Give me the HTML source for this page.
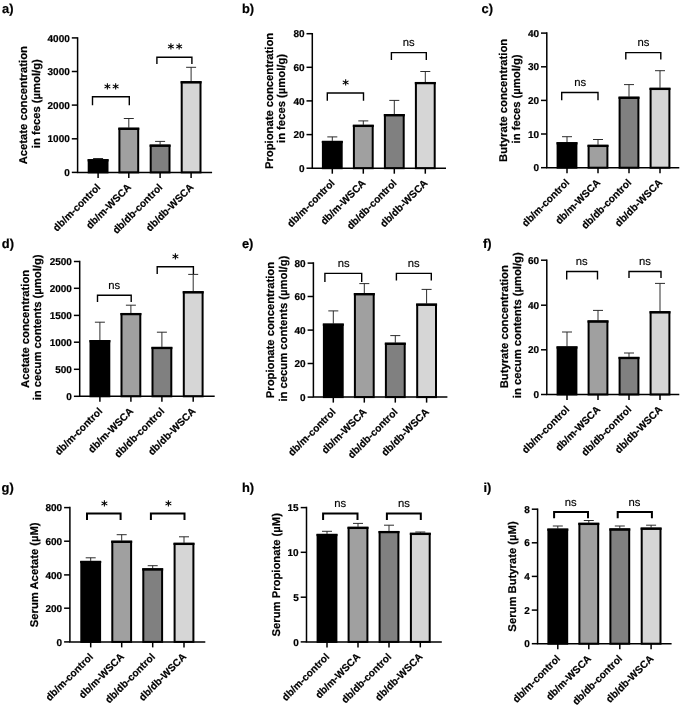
<!DOCTYPE html>
<html><head><meta charset="utf-8"><title>Figure</title><style>html,body{margin:0;padding:0;background:#fff}svg{display:block}</style></head><body>
<svg width="685" height="708" viewBox="0 0 685 708" text-rendering="geometricPrecision" font-family='"Liberation Sans", sans-serif'>
<rect width="685" height="708" fill="#fff"/>
<text x="2.0" y="13.0" font-size="12.9" font-weight="bold" stroke="#000" stroke-width="0.2">a)</text>
<path d="M98.1 159.2V158.5M93.1 158.5H103.1" stroke="#222" stroke-width="0.95" fill="none"/>
<rect x="88.70" y="160.20" width="18.80" height="12.20" fill="#000000" stroke="#000" stroke-width="2.0"/>
<path d="M87.60 160.30H108.60" stroke="#000" stroke-width="2.3" stroke-linejoin="round"/>
<path d="M128.8 127.7V118.5M123.80000000000001 118.5H133.8" stroke="#222" stroke-width="0.95" fill="none"/>
<rect x="119.40" y="128.70" width="18.80" height="43.70" fill="#a0a0a0" stroke="#000" stroke-width="2.0"/>
<path d="M118.30 128.80H139.30" stroke="#000" stroke-width="2.3" stroke-linejoin="round"/>
<path d="M160.1 144.6V141.4M155.1 141.4H165.1" stroke="#222" stroke-width="0.95" fill="none"/>
<rect x="150.70" y="145.60" width="18.80" height="26.80" fill="#808080" stroke="#000" stroke-width="2.0"/>
<path d="M149.60 145.70H170.60" stroke="#000" stroke-width="2.3" stroke-linejoin="round"/>
<path d="M191.1 81.2V67.3M186.1 67.3H196.1" stroke="#222" stroke-width="0.95" fill="none"/>
<rect x="181.70" y="82.20" width="18.80" height="90.20" fill="#d6d6d6" stroke="#000" stroke-width="2.0"/>
<path d="M180.60 82.30H201.60" stroke="#000" stroke-width="2.3" stroke-linejoin="round"/>
<path d="M77.6 37.15V172.4M76.85 172.4H212.1" stroke="#000" stroke-width="1.5" fill="none"/>
<path d="M71.8 37.9H77.6" stroke="#000" stroke-width="1.5"/>
<text x="69.8" y="41.5" font-size="10.0" font-weight="bold" stroke="#000" stroke-width="0.2" text-anchor="end">4000</text>
<path d="M71.8 71.5H77.6" stroke="#000" stroke-width="1.5"/>
<text x="69.8" y="75.1" font-size="10.0" font-weight="bold" stroke="#000" stroke-width="0.2" text-anchor="end">3000</text>
<path d="M71.8 105.1H77.6" stroke="#000" stroke-width="1.5"/>
<text x="69.8" y="108.7" font-size="10.0" font-weight="bold" stroke="#000" stroke-width="0.2" text-anchor="end">2000</text>
<path d="M71.8 138.8H77.6" stroke="#000" stroke-width="1.5"/>
<text x="69.8" y="142.4" font-size="10.0" font-weight="bold" stroke="#000" stroke-width="0.2" text-anchor="end">1000</text>
<path d="M71.8 172.4H77.6" stroke="#000" stroke-width="1.5"/>
<text x="69.8" y="176.0" font-size="10.0" font-weight="bold" stroke="#000" stroke-width="0.2" text-anchor="end">0</text>
<path d="M98.1 172.4V177.9" stroke="#000" stroke-width="1.5"/>
<text transform="translate(101.1 187.9) rotate(-45)" font-size="10.2" font-weight="bold" stroke="#000" stroke-width="0.2" text-anchor="end">db/m-control</text>
<path d="M128.8 172.4V177.9" stroke="#000" stroke-width="1.5"/>
<text transform="translate(131.8 187.9) rotate(-45)" font-size="10.2" font-weight="bold" stroke="#000" stroke-width="0.2" text-anchor="end">db/m-WSCA</text>
<path d="M160.1 172.4V177.9" stroke="#000" stroke-width="1.5"/>
<text transform="translate(163.1 187.9) rotate(-45)" font-size="10.2" font-weight="bold" stroke="#000" stroke-width="0.2" text-anchor="end">db/db-control</text>
<path d="M191.1 172.4V177.9" stroke="#000" stroke-width="1.5"/>
<text transform="translate(194.1 187.9) rotate(-45)" font-size="10.2" font-weight="bold" stroke="#000" stroke-width="0.2" text-anchor="end">db/db-WSCA</text>
<path d="M92.5 105.3V96.7H129.3V105.3" stroke="#000" stroke-width="1.4" fill="none"/>
<text x="112.25" y="92.7" font-size="13" font-weight="bold" font-family='"DejaVu Sans", sans-serif' letter-spacing="1.5" text-anchor="middle">**</text>
<path d="M156.9 64.1V57.3H191.9V64.1" stroke="#000" stroke-width="1.4" fill="none"/>
<text x="175.75" y="52.8" font-size="13" font-weight="bold" font-family='"DejaVu Sans", sans-serif' letter-spacing="1.5" text-anchor="middle">**</text>
<text transform="translate(27 105.2) rotate(-90)" font-size="11.25" font-weight="bold" stroke="#000" stroke-width="0.2" text-anchor="middle">Acetate concentration</text>
<text transform="translate(39.9 103.7) rotate(-90)" font-size="11.25" font-weight="bold" stroke="#000" stroke-width="0.2" text-anchor="middle">in feces (µmol/g)</text>
<text x="242.0" y="12.6" font-size="12.9" font-weight="bold" stroke="#000" stroke-width="0.2">b)</text>
<path d="M332.3 140.9V136.9M327.3 136.9H337.3" stroke="#222" stroke-width="0.95" fill="none"/>
<rect x="322.90" y="141.90" width="18.80" height="26.30" fill="#000000" stroke="#000" stroke-width="2.0"/>
<path d="M321.80 142.00H342.80" stroke="#000" stroke-width="2.3" stroke-linejoin="round"/>
<path d="M363.3 124.8V120.9M358.3 120.9H368.3" stroke="#222" stroke-width="0.95" fill="none"/>
<rect x="353.90" y="125.80" width="18.80" height="42.40" fill="#a0a0a0" stroke="#000" stroke-width="2.0"/>
<path d="M352.80 125.90H373.80" stroke="#000" stroke-width="2.3" stroke-linejoin="round"/>
<path d="M394.3 114.1V100.4M389.3 100.4H399.3" stroke="#222" stroke-width="0.95" fill="none"/>
<rect x="384.90" y="115.10" width="18.80" height="53.10" fill="#808080" stroke="#000" stroke-width="2.0"/>
<path d="M383.80 115.20H404.80" stroke="#000" stroke-width="2.3" stroke-linejoin="round"/>
<path d="M425.3 82.0V71.5M420.3 71.5H430.3" stroke="#222" stroke-width="0.95" fill="none"/>
<rect x="415.90" y="83.00" width="18.80" height="85.20" fill="#d6d6d6" stroke="#000" stroke-width="2.0"/>
<path d="M414.80 83.10H435.80" stroke="#000" stroke-width="2.3" stroke-linejoin="round"/>
<path d="M312.3 32.95V168.2M311.55 168.2H446" stroke="#000" stroke-width="1.5" fill="none"/>
<path d="M306.5 33.7H312.3" stroke="#000" stroke-width="1.5"/>
<text x="304.5" y="37.3" font-size="10.0" font-weight="bold" stroke="#000" stroke-width="0.2" text-anchor="end">80</text>
<path d="M306.5 67.3H312.3" stroke="#000" stroke-width="1.5"/>
<text x="304.5" y="70.9" font-size="10.0" font-weight="bold" stroke="#000" stroke-width="0.2" text-anchor="end">60</text>
<path d="M306.5 100.9H312.3" stroke="#000" stroke-width="1.5"/>
<text x="304.5" y="104.5" font-size="10.0" font-weight="bold" stroke="#000" stroke-width="0.2" text-anchor="end">40</text>
<path d="M306.5 134.6H312.3" stroke="#000" stroke-width="1.5"/>
<text x="304.5" y="138.2" font-size="10.0" font-weight="bold" stroke="#000" stroke-width="0.2" text-anchor="end">20</text>
<path d="M306.5 168.2H312.3" stroke="#000" stroke-width="1.5"/>
<text x="304.5" y="171.8" font-size="10.0" font-weight="bold" stroke="#000" stroke-width="0.2" text-anchor="end">0</text>
<path d="M332.3 168.2V173.7" stroke="#000" stroke-width="1.5"/>
<text transform="translate(335.3 183.7) rotate(-45)" font-size="10.2" font-weight="bold" stroke="#000" stroke-width="0.2" text-anchor="end">db/m-control</text>
<path d="M363.3 168.2V173.7" stroke="#000" stroke-width="1.5"/>
<text transform="translate(366.3 183.7) rotate(-45)" font-size="10.2" font-weight="bold" stroke="#000" stroke-width="0.2" text-anchor="end">db/m-WSCA</text>
<path d="M394.3 168.2V173.7" stroke="#000" stroke-width="1.5"/>
<text transform="translate(397.3 183.7) rotate(-45)" font-size="10.2" font-weight="bold" stroke="#000" stroke-width="0.2" text-anchor="end">db/db-control</text>
<path d="M425.3 168.2V173.7" stroke="#000" stroke-width="1.5"/>
<text transform="translate(428.3 183.7) rotate(-45)" font-size="10.2" font-weight="bold" stroke="#000" stroke-width="0.2" text-anchor="end">db/db-WSCA</text>
<path d="M327.3 100.8V93.0H363.5V100.8" stroke="#000" stroke-width="1.4" fill="none"/>
<text x="346.45" y="89.0" font-size="13" font-weight="bold" font-family='"DejaVu Sans", sans-serif' letter-spacing="1.5" text-anchor="middle">*</text>
<path d="M391.4 60.1V52.6H426.3V60.1" stroke="#000" stroke-width="1.4" fill="none"/>
<text x="408.7" y="46.4" font-size="11.3" stroke="#000" stroke-width="0.15" text-anchor="middle">ns</text>
<text transform="translate(273 100.9) rotate(-90)" font-size="11.25" font-weight="bold" stroke="#000" stroke-width="0.2" text-anchor="middle">Propionate concentration</text>
<text transform="translate(285.4 98.5) rotate(-90)" font-size="11.25" font-weight="bold" stroke="#000" stroke-width="0.2" text-anchor="middle">in feces (µmol/g)</text>
<text x="481.6" y="12.5" font-size="12.9" font-weight="bold" stroke="#000" stroke-width="0.2">c)</text>
<path d="M567 142.2V136.7M562 136.7H572" stroke="#222" stroke-width="0.95" fill="none"/>
<rect x="557.60" y="143.20" width="18.80" height="24.50" fill="#000000" stroke="#000" stroke-width="2.0"/>
<path d="M556.50 143.30H577.50" stroke="#000" stroke-width="2.3" stroke-linejoin="round"/>
<path d="M598 144.8V139.5M593 139.5H603" stroke="#222" stroke-width="0.95" fill="none"/>
<rect x="588.60" y="145.80" width="18.80" height="21.90" fill="#a0a0a0" stroke="#000" stroke-width="2.0"/>
<path d="M587.50 145.90H608.50" stroke="#000" stroke-width="2.3" stroke-linejoin="round"/>
<path d="M629 96.7V84.6M624 84.6H634" stroke="#222" stroke-width="0.95" fill="none"/>
<rect x="619.60" y="97.70" width="18.80" height="70.00" fill="#808080" stroke="#000" stroke-width="2.0"/>
<path d="M618.50 97.80H639.50" stroke="#000" stroke-width="2.3" stroke-linejoin="round"/>
<path d="M660 87.8V70.7M655 70.7H665" stroke="#222" stroke-width="0.95" fill="none"/>
<rect x="650.60" y="88.80" width="18.80" height="78.90" fill="#d6d6d6" stroke="#000" stroke-width="2.0"/>
<path d="M649.50 88.90H670.50" stroke="#000" stroke-width="2.3" stroke-linejoin="round"/>
<path d="M546.8 32.35V167.7M546.05 167.7H679.3" stroke="#000" stroke-width="1.5" fill="none"/>
<path d="M541.0 33.1H546.8" stroke="#000" stroke-width="1.5"/>
<text x="539.0" y="36.7" font-size="10.0" font-weight="bold" stroke="#000" stroke-width="0.2" text-anchor="end">40</text>
<path d="M541.0 66.8H546.8" stroke="#000" stroke-width="1.5"/>
<text x="539.0" y="70.4" font-size="10.0" font-weight="bold" stroke="#000" stroke-width="0.2" text-anchor="end">30</text>
<path d="M541.0 100.4H546.8" stroke="#000" stroke-width="1.5"/>
<text x="539.0" y="104.0" font-size="10.0" font-weight="bold" stroke="#000" stroke-width="0.2" text-anchor="end">20</text>
<path d="M541.0 134.0H546.8" stroke="#000" stroke-width="1.5"/>
<text x="539.0" y="137.6" font-size="10.0" font-weight="bold" stroke="#000" stroke-width="0.2" text-anchor="end">10</text>
<path d="M541.0 167.7H546.8" stroke="#000" stroke-width="1.5"/>
<text x="539.0" y="171.3" font-size="10.0" font-weight="bold" stroke="#000" stroke-width="0.2" text-anchor="end">0</text>
<path d="M567 167.7V173.2" stroke="#000" stroke-width="1.5"/>
<text transform="translate(570.0 183.2) rotate(-45)" font-size="10.2" font-weight="bold" stroke="#000" stroke-width="0.2" text-anchor="end">db/m-control</text>
<path d="M598 167.7V173.2" stroke="#000" stroke-width="1.5"/>
<text transform="translate(601.0 183.2) rotate(-45)" font-size="10.2" font-weight="bold" stroke="#000" stroke-width="0.2" text-anchor="end">db/m-WSCA</text>
<path d="M629 167.7V173.2" stroke="#000" stroke-width="1.5"/>
<text transform="translate(632.0 183.2) rotate(-45)" font-size="10.2" font-weight="bold" stroke="#000" stroke-width="0.2" text-anchor="end">db/db-control</text>
<path d="M660 167.7V173.2" stroke="#000" stroke-width="1.5"/>
<text transform="translate(663.0 183.2) rotate(-45)" font-size="10.2" font-weight="bold" stroke="#000" stroke-width="0.2" text-anchor="end">db/db-WSCA</text>
<path d="M561.7 100.3V92.5H598V100.3" stroke="#000" stroke-width="1.4" fill="none"/>
<text x="580.1" y="86.3" font-size="11.3" stroke="#000" stroke-width="0.15" text-anchor="middle">ns</text>
<path d="M625.8 59.6V52.6H660.8V59.6" stroke="#000" stroke-width="1.4" fill="none"/>
<text x="643.5" y="46.4" font-size="11.3" stroke="#000" stroke-width="0.15" text-anchor="middle">ns</text>
<text transform="translate(507 100.4) rotate(-90)" font-size="11.25" font-weight="bold" stroke="#000" stroke-width="0.2" text-anchor="middle">Butyrate concentration</text>
<text transform="translate(520.2 98.9) rotate(-90)" font-size="11.25" font-weight="bold" stroke="#000" stroke-width="0.2" text-anchor="middle">in feces (µmol/g)</text>
<text x="1.7999999999999998" y="248.0" font-size="12.9" font-weight="bold" stroke="#000" stroke-width="0.2">d)</text>
<path d="M99.9 340.1V322.2M94.9 322.2H104.9" stroke="#222" stroke-width="0.95" fill="none"/>
<rect x="90.50" y="341.10" width="18.80" height="55.20" fill="#000000" stroke="#000" stroke-width="2.0"/>
<path d="M89.40 341.20H110.40" stroke="#000" stroke-width="2.3" stroke-linejoin="round"/>
<path d="M130.9 313.0V305.2M125.9 305.2H135.9" stroke="#222" stroke-width="0.95" fill="none"/>
<rect x="121.50" y="314.00" width="18.80" height="82.30" fill="#a0a0a0" stroke="#000" stroke-width="2.0"/>
<path d="M120.40 314.10H141.40" stroke="#000" stroke-width="2.3" stroke-linejoin="round"/>
<path d="M161.9 346.9V332.2M156.9 332.2H166.9" stroke="#222" stroke-width="0.95" fill="none"/>
<rect x="152.50" y="347.90" width="18.80" height="48.40" fill="#808080" stroke="#000" stroke-width="2.0"/>
<path d="M151.40 348.00H172.40" stroke="#000" stroke-width="2.3" stroke-linejoin="round"/>
<path d="M193.2 291.2V274.4M188.2 274.4H198.2" stroke="#222" stroke-width="0.95" fill="none"/>
<rect x="183.80" y="292.20" width="18.80" height="104.10" fill="#d6d6d6" stroke="#000" stroke-width="2.0"/>
<path d="M182.70 292.30H203.70" stroke="#000" stroke-width="2.3" stroke-linejoin="round"/>
<path d="M79.7 260.75V396.3M78.95 396.3H214.7" stroke="#000" stroke-width="1.5" fill="none"/>
<path d="M73.9 261.5H79.7" stroke="#000" stroke-width="1.5"/>
<text x="71.9" y="265.1" font-size="10.0" font-weight="bold" stroke="#000" stroke-width="0.2" text-anchor="end">2500</text>
<path d="M73.9 288.3H79.7" stroke="#000" stroke-width="1.5"/>
<text x="71.9" y="291.9" font-size="10.0" font-weight="bold" stroke="#000" stroke-width="0.2" text-anchor="end">2000</text>
<path d="M73.9 315.4H79.7" stroke="#000" stroke-width="1.5"/>
<text x="71.9" y="319.0" font-size="10.0" font-weight="bold" stroke="#000" stroke-width="0.2" text-anchor="end">1500</text>
<path d="M73.9 342.2H79.7" stroke="#000" stroke-width="1.5"/>
<text x="71.9" y="345.8" font-size="10.0" font-weight="bold" stroke="#000" stroke-width="0.2" text-anchor="end">1000</text>
<path d="M73.9 369.3H79.7" stroke="#000" stroke-width="1.5"/>
<text x="71.9" y="372.9" font-size="10.0" font-weight="bold" stroke="#000" stroke-width="0.2" text-anchor="end">500</text>
<path d="M73.9 396.3H79.7" stroke="#000" stroke-width="1.5"/>
<text x="71.9" y="399.9" font-size="10.0" font-weight="bold" stroke="#000" stroke-width="0.2" text-anchor="end">0</text>
<path d="M99.9 396.3V401.8" stroke="#000" stroke-width="1.5"/>
<text transform="translate(102.9 411.8) rotate(-45)" font-size="10.2" font-weight="bold" stroke="#000" stroke-width="0.2" text-anchor="end">db/m-control</text>
<path d="M130.9 396.3V401.8" stroke="#000" stroke-width="1.5"/>
<text transform="translate(133.9 411.8) rotate(-45)" font-size="10.2" font-weight="bold" stroke="#000" stroke-width="0.2" text-anchor="end">db/m-WSCA</text>
<path d="M161.9 396.3V401.8" stroke="#000" stroke-width="1.5"/>
<text transform="translate(164.9 411.8) rotate(-45)" font-size="10.2" font-weight="bold" stroke="#000" stroke-width="0.2" text-anchor="end">db/db-control</text>
<path d="M193.2 396.3V401.8" stroke="#000" stroke-width="1.5"/>
<text transform="translate(196.2 411.8) rotate(-45)" font-size="10.2" font-weight="bold" stroke="#000" stroke-width="0.2" text-anchor="end">db/db-WSCA</text>
<path d="M97.5 301.9V295.2H131.2V301.9" stroke="#000" stroke-width="1.4" fill="none"/>
<text x="114.1" y="289.0" font-size="11.3" stroke="#000" stroke-width="0.15" text-anchor="middle">ns</text>
<path d="M157.2 274.1V266.8H193.4V274.1" stroke="#000" stroke-width="1.4" fill="none"/>
<text x="176.05" y="262.8" font-size="13" font-weight="bold" font-family='"DejaVu Sans", sans-serif' letter-spacing="1.5" text-anchor="middle">*</text>
<text transform="translate(28.9 328.9) rotate(-90)" font-size="11.25" font-weight="bold" stroke="#000" stroke-width="0.2" text-anchor="middle">Acetate concentration</text>
<text transform="translate(41.3 327.4) rotate(-90)" font-size="11.25" font-weight="bold" stroke="#000" stroke-width="0.2" text-anchor="middle">in cecum contents (µmol/g)</text>
<text x="241.9" y="247.7" font-size="12.9" font-weight="bold" stroke="#000" stroke-width="0.2">e)</text>
<path d="M333.3 323.6V310.9M328.3 310.9H338.3" stroke="#222" stroke-width="0.95" fill="none"/>
<rect x="323.90" y="324.60" width="18.80" height="72.50" fill="#000000" stroke="#000" stroke-width="2.0"/>
<path d="M322.80 324.70H343.80" stroke="#000" stroke-width="2.3" stroke-linejoin="round"/>
<path d="M364.3 293.1V283.6M359.3 283.6H369.3" stroke="#222" stroke-width="0.95" fill="none"/>
<rect x="354.90" y="294.10" width="18.80" height="103.00" fill="#a0a0a0" stroke="#000" stroke-width="2.0"/>
<path d="M353.80 294.20H374.80" stroke="#000" stroke-width="2.3" stroke-linejoin="round"/>
<path d="M395.3 342.7V335.6M390.3 335.6H400.3" stroke="#222" stroke-width="0.95" fill="none"/>
<rect x="385.90" y="343.70" width="18.80" height="53.40" fill="#808080" stroke="#000" stroke-width="2.0"/>
<path d="M384.80 343.80H405.80" stroke="#000" stroke-width="2.3" stroke-linejoin="round"/>
<path d="M426.6 303.6V289.4M421.6 289.4H431.6" stroke="#222" stroke-width="0.95" fill="none"/>
<rect x="417.20" y="304.60" width="18.80" height="92.50" fill="#d6d6d6" stroke="#000" stroke-width="2.0"/>
<path d="M416.10 304.70H437.10" stroke="#000" stroke-width="2.3" stroke-linejoin="round"/>
<path d="M313.4 262.35V397.1M312.65 397.1H447.4" stroke="#000" stroke-width="1.5" fill="none"/>
<path d="M307.59999999999997 263.1H313.4" stroke="#000" stroke-width="1.5"/>
<text x="305.6" y="266.7" font-size="10.0" font-weight="bold" stroke="#000" stroke-width="0.2" text-anchor="end">80</text>
<path d="M307.59999999999997 296.5H313.4" stroke="#000" stroke-width="1.5"/>
<text x="305.6" y="300.1" font-size="10.0" font-weight="bold" stroke="#000" stroke-width="0.2" text-anchor="end">60</text>
<path d="M307.59999999999997 330.1H313.4" stroke="#000" stroke-width="1.5"/>
<text x="305.6" y="333.7" font-size="10.0" font-weight="bold" stroke="#000" stroke-width="0.2" text-anchor="end">40</text>
<path d="M307.59999999999997 363.5H313.4" stroke="#000" stroke-width="1.5"/>
<text x="305.6" y="367.1" font-size="10.0" font-weight="bold" stroke="#000" stroke-width="0.2" text-anchor="end">20</text>
<path d="M307.59999999999997 397.1H313.4" stroke="#000" stroke-width="1.5"/>
<text x="305.6" y="400.7" font-size="10.0" font-weight="bold" stroke="#000" stroke-width="0.2" text-anchor="end">0</text>
<path d="M333.3 397.1V402.6" stroke="#000" stroke-width="1.5"/>
<text transform="translate(336.3 412.6) rotate(-45)" font-size="10.2" font-weight="bold" stroke="#000" stroke-width="0.2" text-anchor="end">db/m-control</text>
<path d="M364.3 397.1V402.6" stroke="#000" stroke-width="1.5"/>
<text transform="translate(367.3 412.6) rotate(-45)" font-size="10.2" font-weight="bold" stroke="#000" stroke-width="0.2" text-anchor="end">db/m-WSCA</text>
<path d="M395.3 397.1V402.6" stroke="#000" stroke-width="1.5"/>
<text transform="translate(398.3 412.6) rotate(-45)" font-size="10.2" font-weight="bold" stroke="#000" stroke-width="0.2" text-anchor="end">db/db-control</text>
<path d="M426.6 397.1V402.6" stroke="#000" stroke-width="1.5"/>
<text transform="translate(429.6 412.6) rotate(-45)" font-size="10.2" font-weight="bold" stroke="#000" stroke-width="0.2" text-anchor="end">db/db-WSCA</text>
<path d="M324.9 282.0V273.4H361.7V282.0" stroke="#000" stroke-width="1.4" fill="none"/>
<text x="343.6" y="267.2" font-size="11.3" stroke="#000" stroke-width="0.15" text-anchor="middle">ns</text>
<path d="M396.4 280.6V273.4H431.3V280.6" stroke="#000" stroke-width="1.4" fill="none"/>
<text x="413.7" y="267.2" font-size="11.3" stroke="#000" stroke-width="0.15" text-anchor="middle">ns</text>
<text transform="translate(274.1 330.1) rotate(-90)" font-size="11.25" font-weight="bold" stroke="#000" stroke-width="0.2" text-anchor="middle">Propionate concentration</text>
<text transform="translate(286.7 328.6) rotate(-90)" font-size="11.25" font-weight="bold" stroke="#000" stroke-width="0.2" text-anchor="middle">in cecum contents (µmol/g)</text>
<text x="482.9" y="247.6" font-size="12.9" font-weight="bold" stroke="#000" stroke-width="0.2">f)</text>
<path d="M567 346.4V332.0M562 332.0H572" stroke="#222" stroke-width="0.95" fill="none"/>
<rect x="557.60" y="347.40" width="18.80" height="47.10" fill="#000000" stroke="#000" stroke-width="2.0"/>
<path d="M556.50 347.50H577.50" stroke="#000" stroke-width="2.3" stroke-linejoin="round"/>
<path d="M598 320.4V310.4M593 310.4H603" stroke="#222" stroke-width="0.95" fill="none"/>
<rect x="588.60" y="321.40" width="18.80" height="73.10" fill="#a0a0a0" stroke="#000" stroke-width="2.0"/>
<path d="M587.50 321.50H608.50" stroke="#000" stroke-width="2.3" stroke-linejoin="round"/>
<path d="M629 356.9V353.0M624 353.0H634" stroke="#222" stroke-width="0.95" fill="none"/>
<rect x="619.60" y="357.90" width="18.80" height="36.60" fill="#808080" stroke="#000" stroke-width="2.0"/>
<path d="M618.50 358.00H639.50" stroke="#000" stroke-width="2.3" stroke-linejoin="round"/>
<path d="M660 311.2V283.4M655 283.4H665" stroke="#222" stroke-width="0.95" fill="none"/>
<rect x="650.60" y="312.20" width="18.80" height="82.30" fill="#d6d6d6" stroke="#000" stroke-width="2.0"/>
<path d="M649.50 312.30H670.50" stroke="#000" stroke-width="2.3" stroke-linejoin="round"/>
<path d="M546.8 259.45V394.5M546.05 394.5H679.3" stroke="#000" stroke-width="1.5" fill="none"/>
<path d="M541.0 260.2H546.8" stroke="#000" stroke-width="1.5"/>
<text x="539.0" y="263.8" font-size="10.0" font-weight="bold" stroke="#000" stroke-width="0.2" text-anchor="end">60</text>
<path d="M541.0 305.2H546.8" stroke="#000" stroke-width="1.5"/>
<text x="539.0" y="308.8" font-size="10.0" font-weight="bold" stroke="#000" stroke-width="0.2" text-anchor="end">40</text>
<path d="M541.0 349.8H546.8" stroke="#000" stroke-width="1.5"/>
<text x="539.0" y="353.4" font-size="10.0" font-weight="bold" stroke="#000" stroke-width="0.2" text-anchor="end">20</text>
<path d="M541.0 394.5H546.8" stroke="#000" stroke-width="1.5"/>
<text x="539.0" y="398.1" font-size="10.0" font-weight="bold" stroke="#000" stroke-width="0.2" text-anchor="end">0</text>
<path d="M567 394.5V400.0" stroke="#000" stroke-width="1.5"/>
<text transform="translate(570.0 410.0) rotate(-45)" font-size="10.2" font-weight="bold" stroke="#000" stroke-width="0.2" text-anchor="end">db/m-control</text>
<path d="M598 394.5V400.0" stroke="#000" stroke-width="1.5"/>
<text transform="translate(601.0 410.0) rotate(-45)" font-size="10.2" font-weight="bold" stroke="#000" stroke-width="0.2" text-anchor="end">db/m-WSCA</text>
<path d="M629 394.5V400.0" stroke="#000" stroke-width="1.5"/>
<text transform="translate(632.0 410.0) rotate(-45)" font-size="10.2" font-weight="bold" stroke="#000" stroke-width="0.2" text-anchor="end">db/db-control</text>
<path d="M660 394.5V400.0" stroke="#000" stroke-width="1.5"/>
<text transform="translate(663.0 410.0) rotate(-45)" font-size="10.2" font-weight="bold" stroke="#000" stroke-width="0.2" text-anchor="end">db/db-WSCA</text>
<path d="M566.7 279.6V271.5H597.5V279.6" stroke="#000" stroke-width="1.4" fill="none"/>
<text x="581.7" y="265.3" font-size="11.3" stroke="#000" stroke-width="0.15" text-anchor="middle">ns</text>
<path d="M629 278.0V271.5H661V278.0" stroke="#000" stroke-width="1.4" fill="none"/>
<text x="645" y="265.3" font-size="11.3" stroke="#000" stroke-width="0.15" text-anchor="middle">ns</text>
<text transform="translate(507.5 326.7) rotate(-90)" font-size="11.25" font-weight="bold" stroke="#000" stroke-width="0.2" text-anchor="middle">Butyrate concentration</text>
<text transform="translate(520.7 325.2) rotate(-90)" font-size="11.25" font-weight="bold" stroke="#000" stroke-width="0.2" text-anchor="middle">in cecum contents (µmol/g)</text>
<text x="1.6" y="491.9" font-size="12.9" font-weight="bold" stroke="#000" stroke-width="0.2">g)</text>
<path d="M90.7 560.9V557.8M85.7 557.8H95.7" stroke="#222" stroke-width="0.95" fill="none"/>
<rect x="81.30" y="561.90" width="18.80" height="80.00" fill="#000000" stroke="#000" stroke-width="2.0"/>
<path d="M80.20 562.00H101.20" stroke="#000" stroke-width="2.3" stroke-linejoin="round"/>
<path d="M121.7 540.7V534.7M116.7 534.7H126.7" stroke="#222" stroke-width="0.95" fill="none"/>
<rect x="112.30" y="541.70" width="18.80" height="100.20" fill="#a0a0a0" stroke="#000" stroke-width="2.0"/>
<path d="M111.20 541.80H132.20" stroke="#000" stroke-width="2.3" stroke-linejoin="round"/>
<path d="M152.7 568.3V565.7M147.7 565.7H157.7" stroke="#222" stroke-width="0.95" fill="none"/>
<rect x="143.30" y="569.30" width="18.80" height="72.60" fill="#808080" stroke="#000" stroke-width="2.0"/>
<path d="M142.20 569.40H163.20" stroke="#000" stroke-width="2.3" stroke-linejoin="round"/>
<path d="M184.0 542.8V536.8M179.0 536.8H189.0" stroke="#222" stroke-width="0.95" fill="none"/>
<rect x="174.60" y="543.80" width="18.80" height="98.10" fill="#d6d6d6" stroke="#000" stroke-width="2.0"/>
<path d="M173.50 543.90H194.50" stroke="#000" stroke-width="2.3" stroke-linejoin="round"/>
<path d="M69.9 506.85V641.9M69.15 641.9H205.3" stroke="#000" stroke-width="1.5" fill="none"/>
<path d="M64.10000000000001 507.6H69.9" stroke="#000" stroke-width="1.5"/>
<text x="62.1" y="511.2" font-size="10.0" font-weight="bold" stroke="#000" stroke-width="0.2" text-anchor="end">800</text>
<path d="M64.10000000000001 541.2H69.9" stroke="#000" stroke-width="1.5"/>
<text x="62.1" y="544.8" font-size="10.0" font-weight="bold" stroke="#000" stroke-width="0.2" text-anchor="end">600</text>
<path d="M64.10000000000001 574.9H69.9" stroke="#000" stroke-width="1.5"/>
<text x="62.1" y="578.5" font-size="10.0" font-weight="bold" stroke="#000" stroke-width="0.2" text-anchor="end">400</text>
<path d="M64.10000000000001 608.2H69.9" stroke="#000" stroke-width="1.5"/>
<text x="62.1" y="611.8" font-size="10.0" font-weight="bold" stroke="#000" stroke-width="0.2" text-anchor="end">200</text>
<path d="M64.10000000000001 641.9H69.9" stroke="#000" stroke-width="1.5"/>
<text x="62.1" y="645.5" font-size="10.0" font-weight="bold" stroke="#000" stroke-width="0.2" text-anchor="end">0</text>
<path d="M90.7 641.9V647.4" stroke="#000" stroke-width="1.5"/>
<text transform="translate(93.7 657.4) rotate(-45)" font-size="10.2" font-weight="bold" stroke="#000" stroke-width="0.2" text-anchor="end">db/m-control</text>
<path d="M121.7 641.9V647.4" stroke="#000" stroke-width="1.5"/>
<text transform="translate(124.7 657.4) rotate(-45)" font-size="10.2" font-weight="bold" stroke="#000" stroke-width="0.2" text-anchor="end">db/m-WSCA</text>
<path d="M152.7 641.9V647.4" stroke="#000" stroke-width="1.5"/>
<text transform="translate(155.7 657.4) rotate(-45)" font-size="10.2" font-weight="bold" stroke="#000" stroke-width="0.2" text-anchor="end">db/db-control</text>
<path d="M184.0 641.9V647.4" stroke="#000" stroke-width="1.5"/>
<text transform="translate(187.0 657.4) rotate(-45)" font-size="10.2" font-weight="bold" stroke="#000" stroke-width="0.2" text-anchor="end">db/db-WSCA</text>
<path d="M87 520.1V513.6H120.6V520.1" stroke="#000" stroke-width="2.0" fill="none"/>
<text x="105.15" y="509.6" font-size="13" font-weight="bold" font-family='"DejaVu Sans", sans-serif' letter-spacing="1.5" text-anchor="middle">*</text>
<path d="M150.9 520.1V513.6H184.5V520.1" stroke="#000" stroke-width="2.0" fill="none"/>
<text x="169.25" y="509.6" font-size="13" font-weight="bold" font-family='"DejaVu Sans", sans-serif' letter-spacing="1.5" text-anchor="middle">*</text>
<text transform="translate(38 574.8) rotate(-90)" font-size="11.25" font-weight="bold" stroke="#000" stroke-width="0.2" text-anchor="middle">Serum Acetate (µM)</text>
<text x="241.9" y="491.7" font-size="12.9" font-weight="bold" stroke="#000" stroke-width="0.2">h)</text>
<path d="M327 533.9V531.3M322 531.3H332" stroke="#222" stroke-width="0.95" fill="none"/>
<rect x="317.60" y="534.90" width="18.80" height="107.00" fill="#000000" stroke="#000" stroke-width="2.0"/>
<path d="M316.50 535.00H337.50" stroke="#000" stroke-width="2.3" stroke-linejoin="round"/>
<path d="M358 526.8V523.4M353 523.4H363" stroke="#222" stroke-width="0.95" fill="none"/>
<rect x="348.60" y="527.80" width="18.80" height="114.10" fill="#a0a0a0" stroke="#000" stroke-width="2.0"/>
<path d="M347.50 527.90H368.50" stroke="#000" stroke-width="2.3" stroke-linejoin="round"/>
<path d="M389 531.0V525.2M384 525.2H394" stroke="#222" stroke-width="0.95" fill="none"/>
<rect x="379.60" y="532.00" width="18.80" height="109.90" fill="#808080" stroke="#000" stroke-width="2.0"/>
<path d="M378.50 532.10H399.50" stroke="#000" stroke-width="2.3" stroke-linejoin="round"/>
<path d="M420.3 532.8V532.0M415.3 532.0H425.3" stroke="#222" stroke-width="0.95" fill="none"/>
<rect x="410.90" y="533.80" width="18.80" height="108.10" fill="#d6d6d6" stroke="#000" stroke-width="2.0"/>
<path d="M409.80 533.90H430.80" stroke="#000" stroke-width="2.3" stroke-linejoin="round"/>
<path d="M306.5 506.85V641.9M305.75 641.9H441.8" stroke="#000" stroke-width="1.5" fill="none"/>
<path d="M300.7 507.6H306.5" stroke="#000" stroke-width="1.5"/>
<text x="298.7" y="511.2" font-size="10.0" font-weight="bold" stroke="#000" stroke-width="0.2" text-anchor="end">15</text>
<path d="M300.7 552.3H306.5" stroke="#000" stroke-width="1.5"/>
<text x="298.7" y="555.9" font-size="10.0" font-weight="bold" stroke="#000" stroke-width="0.2" text-anchor="end">10</text>
<path d="M300.7 597.2H306.5" stroke="#000" stroke-width="1.5"/>
<text x="298.7" y="600.8" font-size="10.0" font-weight="bold" stroke="#000" stroke-width="0.2" text-anchor="end">5</text>
<path d="M300.7 641.9H306.5" stroke="#000" stroke-width="1.5"/>
<text x="298.7" y="645.5" font-size="10.0" font-weight="bold" stroke="#000" stroke-width="0.2" text-anchor="end">0</text>
<path d="M327 641.9V647.4" stroke="#000" stroke-width="1.5"/>
<text transform="translate(330.0 657.4) rotate(-45)" font-size="10.2" font-weight="bold" stroke="#000" stroke-width="0.2" text-anchor="end">db/m-control</text>
<path d="M358 641.9V647.4" stroke="#000" stroke-width="1.5"/>
<text transform="translate(361.0 657.4) rotate(-45)" font-size="10.2" font-weight="bold" stroke="#000" stroke-width="0.2" text-anchor="end">db/m-WSCA</text>
<path d="M389 641.9V647.4" stroke="#000" stroke-width="1.5"/>
<text transform="translate(392.0 657.4) rotate(-45)" font-size="10.2" font-weight="bold" stroke="#000" stroke-width="0.2" text-anchor="end">db/db-control</text>
<path d="M420.3 641.9V647.4" stroke="#000" stroke-width="1.5"/>
<text transform="translate(423.3 657.4) rotate(-45)" font-size="10.2" font-weight="bold" stroke="#000" stroke-width="0.2" text-anchor="end">db/db-WSCA</text>
<path d="M323.1 520.1V513.6H357.5V520.1" stroke="#000" stroke-width="2.0" fill="none"/>
<text x="340.1" y="507.4" font-size="11.3" stroke="#000" stroke-width="0.15" text-anchor="middle">ns</text>
<path d="M386.9 520.1V513.6H420.8V520.1" stroke="#000" stroke-width="2.0" fill="none"/>
<text x="404" y="507.4" font-size="11.3" stroke="#000" stroke-width="0.15" text-anchor="middle">ns</text>
<text transform="translate(280 574.8) rotate(-90)" font-size="11.25" font-weight="bold" stroke="#000" stroke-width="0.2" text-anchor="middle">Serum Propionate (µM)</text>
<text x="483.5" y="491.6" font-size="12.9" font-weight="bold" stroke="#000" stroke-width="0.2">i)</text>
<path d="M557.8 528.6V526.0M552.8 526.0H562.8" stroke="#222" stroke-width="0.95" fill="none"/>
<rect x="548.40" y="529.60" width="18.80" height="114.10" fill="#000000" stroke="#000" stroke-width="2.0"/>
<path d="M547.30 529.70H568.30" stroke="#000" stroke-width="2.3" stroke-linejoin="round"/>
<path d="M588.8 522.8V520.5M583.8 520.5H593.8" stroke="#222" stroke-width="0.95" fill="none"/>
<rect x="579.40" y="523.80" width="18.80" height="119.90" fill="#a0a0a0" stroke="#000" stroke-width="2.0"/>
<path d="M578.30 523.90H599.30" stroke="#000" stroke-width="2.3" stroke-linejoin="round"/>
<path d="M619.8 528.4V526.0M614.8 526.0H624.8" stroke="#222" stroke-width="0.95" fill="none"/>
<rect x="610.40" y="529.40" width="18.80" height="114.30" fill="#808080" stroke="#000" stroke-width="2.0"/>
<path d="M609.30 529.50H630.30" stroke="#000" stroke-width="2.3" stroke-linejoin="round"/>
<path d="M651.1 527.6V525.2M646.1 525.2H656.1" stroke="#222" stroke-width="0.95" fill="none"/>
<rect x="641.70" y="528.60" width="18.80" height="115.10" fill="#d6d6d6" stroke="#000" stroke-width="2.0"/>
<path d="M640.60 528.70H661.60" stroke="#000" stroke-width="2.3" stroke-linejoin="round"/>
<path d="M537.6 508.45V643.7M536.85 643.7H671.6" stroke="#000" stroke-width="1.5" fill="none"/>
<path d="M531.8000000000001 509.2H537.6" stroke="#000" stroke-width="1.5"/>
<text x="529.8" y="512.8" font-size="10.0" font-weight="bold" stroke="#000" stroke-width="0.2" text-anchor="end">8</text>
<path d="M531.8000000000001 542.8H537.6" stroke="#000" stroke-width="1.5"/>
<text x="529.8" y="546.4" font-size="10.0" font-weight="bold" stroke="#000" stroke-width="0.2" text-anchor="end">6</text>
<path d="M531.8000000000001 576.4H537.6" stroke="#000" stroke-width="1.5"/>
<text x="529.8" y="580.0" font-size="10.0" font-weight="bold" stroke="#000" stroke-width="0.2" text-anchor="end">4</text>
<path d="M531.8000000000001 610.1H537.6" stroke="#000" stroke-width="1.5"/>
<text x="529.8" y="613.7" font-size="10.0" font-weight="bold" stroke="#000" stroke-width="0.2" text-anchor="end">2</text>
<path d="M531.8000000000001 643.7H537.6" stroke="#000" stroke-width="1.5"/>
<text x="529.8" y="647.3" font-size="10.0" font-weight="bold" stroke="#000" stroke-width="0.2" text-anchor="end">0</text>
<path d="M557.8 643.7V649.2" stroke="#000" stroke-width="1.5"/>
<text transform="translate(560.8 659.2) rotate(-45)" font-size="10.2" font-weight="bold" stroke="#000" stroke-width="0.2" text-anchor="end">db/m-control</text>
<path d="M588.8 643.7V649.2" stroke="#000" stroke-width="1.5"/>
<text transform="translate(591.8 659.2) rotate(-45)" font-size="10.2" font-weight="bold" stroke="#000" stroke-width="0.2" text-anchor="end">db/m-WSCA</text>
<path d="M619.8 643.7V649.2" stroke="#000" stroke-width="1.5"/>
<text transform="translate(622.8 659.2) rotate(-45)" font-size="10.2" font-weight="bold" stroke="#000" stroke-width="0.2" text-anchor="end">db/db-control</text>
<path d="M651.1 643.7V649.2" stroke="#000" stroke-width="1.5"/>
<text transform="translate(654.1 659.2) rotate(-45)" font-size="10.2" font-weight="bold" stroke="#000" stroke-width="0.2" text-anchor="end">db/db-WSCA</text>
<path d="M554.1 518.3V512.1H588V518.3" stroke="#000" stroke-width="2.0" fill="none"/>
<text x="570.7" y="505.9" font-size="11.3" stroke="#000" stroke-width="0.15" text-anchor="middle">ns</text>
<path d="M617.7 518.3V512.1H651.9V518.3" stroke="#000" stroke-width="2.0" fill="none"/>
<text x="634.5" y="505.9" font-size="11.3" stroke="#000" stroke-width="0.15" text-anchor="middle">ns</text>
<text transform="translate(516.4 576.5) rotate(-90)" font-size="11.25" font-weight="bold" stroke="#000" stroke-width="0.2" text-anchor="middle">Serum Butyrate (µM)</text>
</svg>
</body></html>
